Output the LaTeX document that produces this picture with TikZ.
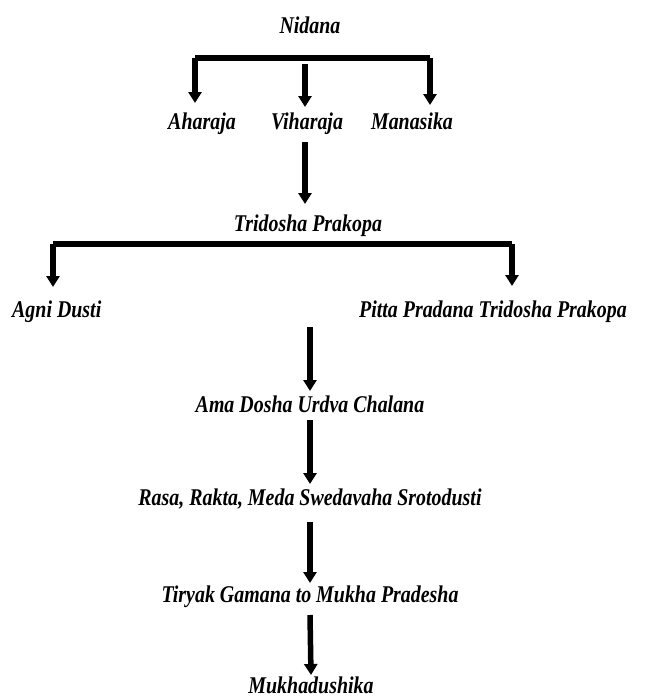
\documentclass[tikz,border=0pt]{standalone}
\usepackage{fontspec}
\setmainfont{Liberation Serif}[FakeStretch=0.83]
\usetikzlibrary{arrows.meta}
\begin{document}
\begin{tikzpicture}[x=1pt,y=-1pt,
  lbl/.style={font=\fontsize{24}{26}\selectfont\bfseries\itshape, inner sep=0pt, anchor=base},
  arr/.style={line width=5.5pt, -{Triangle[width=13pt,length=11pt]}},
  bar/.style={line width=5.5pt}]
\useasboundingbox (0,0) rectangle (645,699);
% nodes
\node[lbl] (nidana) at (310,33) {Nidana};
\node[lbl] (ahara) at (202,129) {Aharaja};
\node[lbl] (vihara) at (307,129) {Viharaja};
\node[lbl] (manas) at (412,129) {Manasika};
\node[lbl] (tri) at (308,231) {Tridosha Prakopa};
\node[lbl, anchor=base west] (agni) at (12,317) {Agni Dusti};
\node[lbl, anchor=base east] (pitta) at (627,317) {Pitta Pradana Tridosha Prakopa};
\node[lbl] (ama) at (310,412) {Ama Dosha Urdva Chalana};
\node[lbl] (rasa) at (310,505) {Rasa, Rakta, Meda Swedavaha Srotodusti};
\node[lbl] (tiryak) at (310,602) {Tiryak Gamana to Mukha Pradesha};
\node[lbl] (mukha) at (311,693) {Mukhadushika};
% first branching
\coordinate (b1l) at (195,58);
\coordinate (b1r) at (430,58);
\coordinate (b1m) at (305,64);
\draw[bar] (b1l) -- (b1r);
\draw[arr] (b1l) -- (b1l |- 0,103);
\draw[arr] (b1r) -- (b1r |- 0,105);
\draw[arr] (b1m) -- (b1m |- 0,107);
% Viharaja to Tridosha
\coordinate (c1) at (305,142);
\draw[arr] (c1) -- (c1 |- 0,204);
% second branching
\coordinate (b2l) at (53,244);
\coordinate (b2r) at (512,244);
\draw[bar] (b2l) -- (b2r);
\draw[arr] (b2l) -- (b2l |- 0,287);
\draw[arr] (b2r) -- (b2r |- 0,286);
% main chain
\draw[arr] (310,327) -- (ama.north |- 0,391);
\draw[arr] (ama.south |- 0,420) -- (rasa.north |- 0,484);
\draw[arr] (rasa.south |- 0,522) -- (tiryak.north |- 0,583);
\draw[arr] (tiryak.south |- 0,615) -- (mukha.north |- 0,675);
\end{tikzpicture}
\end{document}
